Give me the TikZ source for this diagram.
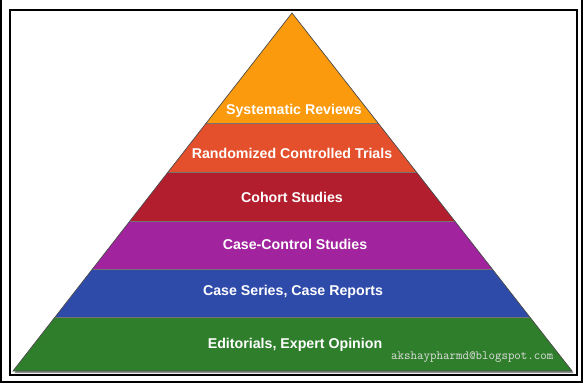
\documentclass[tikz,border=0pt]{standalone}
\usepackage{fontspec}
\setmainfont{Liberation Sans}
\definecolor{cOrange}{HTML}{FA9A0C}
\definecolor{cRed}{HTML}{E4502C}
\definecolor{cDark}{HTML}{B31E2E}
\definecolor{cPurple}{HTML}{A1239E}
\definecolor{cBlue}{HTML}{2F4BAA}
\definecolor{cGreen}{HTML}{2F7E2B}
\tikzset{
  frameline/.style={draw=black, line width=2pt},
  bandlabel/.style={text=white, font=\bfseries\fontsize{14.2}{16}\selectfont, inner sep=0pt, anchor=center},
  sepline/.style={draw=black!55, line width=0.8pt},
  markstyle/.style={text=white!88!black, font=\ttfamily\fontsize{12.6}{13}\selectfont, inner sep=0pt}
}
\begin{document}
\begin{tikzpicture}[x=1pt,y=-1pt]
\useasboundingbox (0,0) rectangle (586,385);
\fill[white] (0,0) rectangle (586,385);
% frames
\draw[frameline] (1,0) -- (1,382) -- (582,382) -- (582,0);
\draw[frameline] (10,10) rectangle (576.5,375);
% pyramid corners
\coordinate (apex) at (292,13);
\coordinate (bl) at (13,371);
\coordinate (br) at (572,371);
% shadow
\fill[black!45] ([shift={(1.5,2)}]apex) -- ([shift={(1.5,2)}]br) -- ([shift={(1.5,2)}]bl) -- cycle;
% bands
\begin{scope}
\clip (apex) -- (br) -- (bl) -- cycle;
\fill[cOrange] (0,0) rectangle (586,123);
\fill[cRed] (0,123) rectangle (586,172);
\fill[cDark] (0,172) rectangle (586,221);
\fill[cPurple] (0,221) rectangle (586,269);
\fill[cBlue] (0,269) rectangle (586,317);
\fill[cGreen] (0,317) rectangle (586,372);
\foreach \yy in {123,172,221,269,317} {\draw[sepline] (0,\yy) -- (586,\yy);}
\end{scope}
\draw[black!70, line width=0.7pt, line join=miter] (apex) -- (br) -- (bl) -- cycle;
% labels
\node[bandlabel] (sr) at (294,111) {Systematic Reviews};
\node[bandlabel] (rct) at (292,153) {Randomized Controlled Trials};
\node[bandlabel] (cs) at (292,197.5) {Cohort Studies};
\node[bandlabel] (cc) at (295,244) {Case-Control Studies};
\node[bandlabel] (ser) at (293,292) {Case Series, Case Reports};
\node[bandlabel] (ed) at (295,345) {Editorials, Expert Opinion};
\node[markstyle, anchor=west] (mark) at (391,357) {akshaypharmd@blogspot.com};
\end{tikzpicture}
\end{document}
